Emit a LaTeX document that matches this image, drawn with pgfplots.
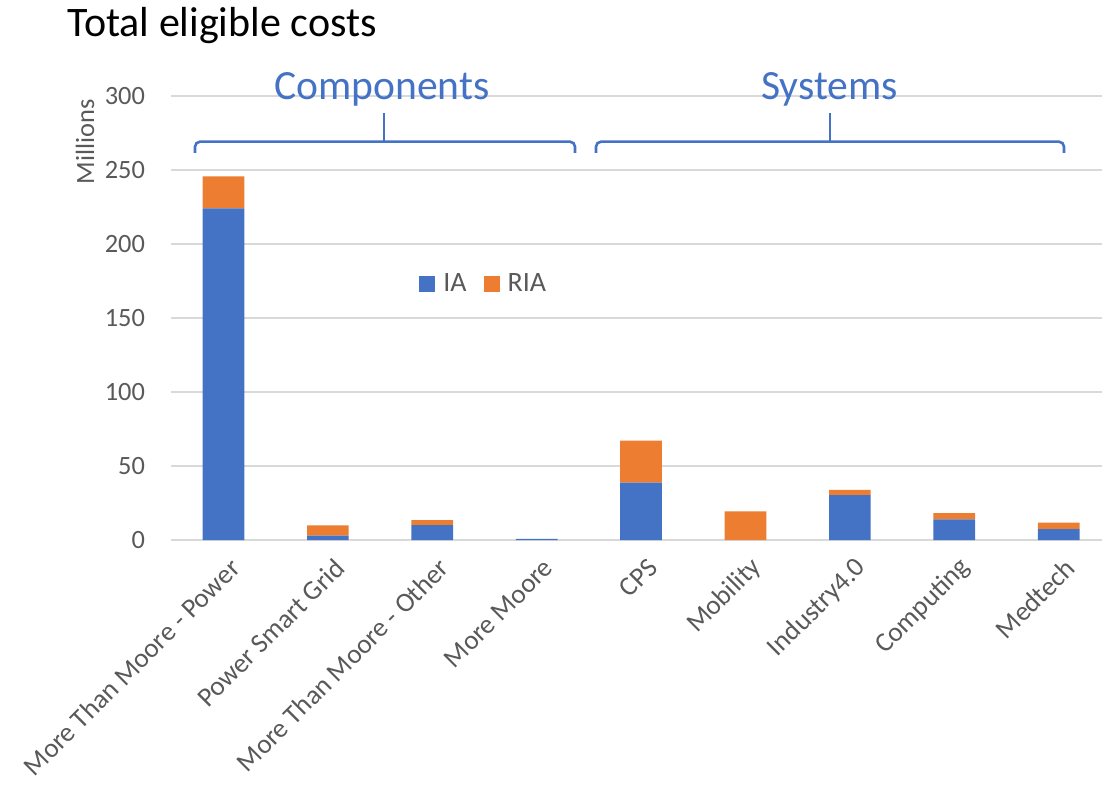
\documentclass[border=0pt]{standalone}
\usepackage{pgfplots}
\pgfplotsset{compat=1.18}
\usepackage{fontspec}
\setmainfont{Carlito}
\definecolor{iablue}{HTML}{4472C4}
\definecolor{riaorange}{HTML}{ED7D31}
\definecolor{ticklab}{HTML}{595959}
\definecolor{gridc}{HTML}{D9D9D9}
\begin{document}
\begin{tikzpicture}
\path[use as bounding box] (0pt,0pt) rectangle (551pt,-392.5pt);
\begin{axis}[
  at={(85.65pt,-270pt)}, anchor=south west,
  scale only axis, width=469.8pt, height=222pt,
  ybar stacked, bar width=20.85pt,
  xmin=-0.5, xmax=8.5, ymin=0, ymax=300,
  xtick={0,...,8},
  xticklabels={More Than Moore - Power, Power Smart Grid, More Than Moore - Other, More Moore, CPS, Mobility, Industry4.0, Computing, Medtech},
  ytick={0,50,...,300},
  ymajorgrids, grid style={gridc, line width=0.75pt},
  axis line style={draw=none},
  major tick length=0pt, tick style={draw=none},
  yticklabel style={font=\fontsize{13.2}{15}\selectfont, text=ticklab, anchor=east, inner sep=0pt, xshift=-13pt},
  xticklabel style={font=\fontsize{13.6}{16}\selectfont, text=ticklab, rotate=45, anchor=east, inner sep=0pt, xshift=-4pt, yshift=-12.5pt},
  /pgf/number format/assume math mode=true,
  legend image code/.code={\fill[#1] (0pt,-4pt) rectangle (8pt,4pt);},
  legend style={draw=none, fill=none, at={(0.2636,0.5766)}, anchor=west, inner sep=0pt,
    legend columns=2, font=\fontsize{14}{16}\selectfont, text=ticklab,
    nodes={inner sep=0pt},
    /tikz/every odd column/.append style={column sep=4pt},
    /tikz/every even column/.append style={column sep=8.5pt}},
]
\addplot[fill=iablue, draw=none] coordinates {(0,224) (1,3) (2,10) (3,0.8) (4,38.8) (5,0) (6,30.4) (7,13.9) (8,7.4)};
\addplot[fill=riaorange, draw=none] coordinates {(0,21.7) (1,6.8) (2,3.4) (3,0) (4,28.4) (5,19.3) (6,3.4) (7,4.3) (8,4.3)};
\legend{IA, RIA}
\end{axis}
\begin{scope}[x=0.5pt,y=-0.5pt]
\node[anchor=base west, font=\fontsize{21}{25}\selectfont, inner sep=0pt] at (67,37) {Total eligible costs};
\node[rotate=90, font=\fontsize{13.2}{15}\selectfont, text=ticklab, inner sep=0pt] at (85,142) {Millions};
\node[anchor=base, font=\fontsize{20.8}{24}\selectfont, text=iablue, inner sep=0pt] at (382,99.5) {Components};
\node[anchor=base, font=\fontsize{20.8}{24}\selectfont, text=iablue, inner sep=0pt] at (829.6,99.5) {Systems};
\draw[iablue, line width=1.3pt, rounded corners=2.5pt] (195,153) -- (195,141.7) -- (575,141.7) -- (575,153);
\draw[iablue, line width=1.3pt, rounded corners=2.5pt] (596,153) -- (596,141.7) -- (1064,141.7) -- (1064,153);
\draw[iablue, line width=0.9pt] (384,141.7) -- (384,113);
\draw[iablue, line width=0.9pt] (829.6,141.7) -- (829.6,113);
\end{scope}
\end{tikzpicture}
\end{document}
